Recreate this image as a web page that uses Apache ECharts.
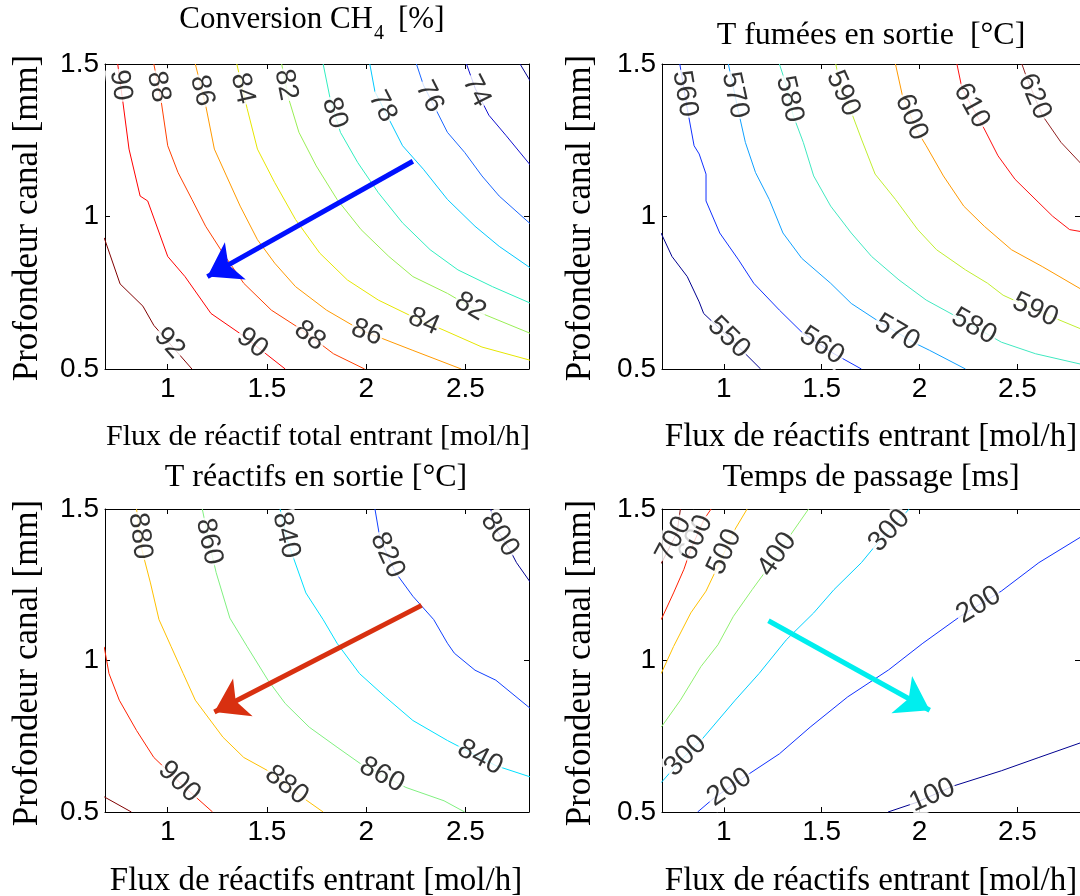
<!DOCTYPE html>
<html><head><meta charset="utf-8">
<script src="https://cdn.jsdelivr.net/npm/echarts@6/dist/echarts.min.js"></script>
<style>html,body{margin:0;padding:0;background:#fff}#c{width:1080px;height:896px}</style>
</head><body><div id="c"></div>
<script>
// ---------------- DATA ----------------
const xTicks = [1, 1.5, 2, 2.5];
const yTicks = [0.5, 1, 1.5];
const X_MIN = 0.684, X_MAX = 2.82, Y_MIN = 0.5, Y_MAX = 1.5;

// Panel 1 : Conversion CH4 [%]
const convLevels = [92, 90, 88, 86, 84, 82, 80, 78, 76, 74, 72];
const convLines = [
  [[0.68,0.93],[0.760,0.779],[0.875,0.706],[0.930,0.643],[1.122,0.5]],
  [[0.748,1.5],[0.774,1.376],[0.805,1.221],[0.861,1.067],[0.899,1.051],[1.0,0.869],[1.087,0.803],[1.218,0.682],[1.365,0.616],[1.592,0.5]],
  [[0.930,1.5],[0.965,1.387],[1.0,1.232],[1.052,1.144],[1.122,1.056],[1.191,0.968],[1.278,0.880],[1.383,0.781],[1.522,0.693],[1.679,0.627],[1.835,0.550],[1.992,0.5]],
  [[1.139,1.5],[1.191,1.365],[1.235,1.221],[1.296,1.133],[1.365,1.034],[1.452,0.924],[1.539,0.847],[1.644,0.770],[1.800,0.693],[1.974,0.627],[2.235,0.561],[2.479,0.5]],
  [[1.348,1.5],[1.400,1.354],[1.452,1.221],[1.539,1.111],[1.644,0.990],[1.766,0.880],[1.905,0.792],[2.061,0.726],[2.235,0.671],[2.392,0.627],[2.583,0.572],[2.83,0.528]],
  [[1.574,1.5],[1.609,1.387],[1.661,1.276],[1.748,1.166],[1.853,1.056],[1.974,0.957],[2.114,0.869],[2.235,0.803],[2.409,0.748],[2.583,0.682],[2.83,0.616]],
  [[1.783,1.5],[1.818,1.387],[1.870,1.276],[1.957,1.177],[2.061,1.078],[2.183,0.979],[2.322,0.891],[2.462,0.825],[2.636,0.770],[2.83,0.715]],
  [[2.018,1.5],[2.044,1.409],[2.114,1.320],[2.183,1.232],[2.288,1.155],[2.409,1.056],[2.548,0.968],[2.670,0.902],[2.83,0.830]],
  [[2.253,1.5],[2.288,1.431],[2.357,1.343],[2.409,1.276],[2.496,1.210],[2.583,1.133],[2.670,1.067],[2.83,0.974]],
  [[2.505,1.5],[2.549,1.420],[2.618,1.332],[2.705,1.265],[2.83,1.166]],
  [[2.775,1.5],[2.83,1.44]]
];
const convLabels = [
  [1.0,0.58,92],[0.76,1.43,90],[1.42,0.58,90],[0.948,1.425,88],[1.705,0.60,88],
  [1.157,1.41,86],[2.0,0.615,86],[1.375,1.42,84],[2.29,0.655,84],[1.58,1.43,82],
  [2.52,0.70,82],[1.844,1.34,80],[2.08,1.36,78],[2.31,1.39,76],[2.55,1.41,74]
];
const convArrow = [2.235, 1.181, 1.200, 0.803];

// Panel 2 : T fumées en sortie [°C]
const fumLevels = [550, 560, 570, 580, 590, 600, 610, 620];
const fumLines = [
  [[0.679,0.946],[0.735,0.869],[0.813,0.803],[0.874,0.720],[0.897,0.682],[0.988,0.627],[1.110,0.550],[1.188,0.5]],
  [[0.775,1.5],[0.813,1.354],[0.848,1.232],[0.874,1.205],[0.909,1.139],[0.909,1.051],[0.979,0.946],[1.075,0.858],[1.153,0.781],[1.284,0.693],[1.406,0.616],[1.563,0.550],[1.703,0.5]],
  [[1.023,1.5],[1.075,1.343],[1.110,1.243],[1.162,1.144],[1.232,1.056],[1.302,0.946],[1.398,0.863],[1.546,0.781],[1.651,0.715],[1.808,0.649],[1.982,0.583],[2.052,0.561],[2.235,0.5]],
  [[1.284,1.5],[1.319,1.431],[1.354,1.332],[1.406,1.243],[1.459,1.133],[1.546,1.034],[1.651,0.946],[1.755,0.869],[1.895,0.792],[2.034,0.726],[2.191,0.671],[2.418,0.588],[2.593,0.550],[2.83,0.515]],
  [[1.572,1.5],[1.598,1.420],[1.651,1.343],[1.703,1.254],[1.773,1.139],[1.877,1.056],[1.991,0.957],[2.087,0.891],[2.235,0.825],[2.348,0.781],[2.427,0.742],[2.593,0.693],[2.83,0.63]],
  [[1.877,1.5],[1.912,1.398],[1.982,1.287],[2.034,1.232],[2.122,1.133],[2.226,1.034],[2.331,0.968],[2.470,0.891],[2.627,0.836],[2.83,0.76]],
  [[2.191,1.5],[2.217,1.420],[2.331,1.287],[2.401,1.199],[2.488,1.122],[2.610,1.045],[2.680,1.001],[2.767,0.957],[2.83,0.95]],
  [[2.523,1.5],[2.549,1.453],[2.627,1.332],[2.723,1.243],[2.83,1.17]]
];
const fumLabels = [
  [1.005,0.59,550],[0.778,1.40,560],[1.50,0.575,560],[1.072,1.40,570],[1.877,0.61,570],
  [1.302,1.38,580],[2.27,0.63,580],[1.598,1.40,590],[2.575,0.67,590],[1.938,1.32,600],
  [2.244,1.355,610],[2.575,1.39,620]
];

// Panel 3 : T réactifs en sortie [°C]
const reacLevels = [800, 820, 840, 860, 880, 900, 920];
const reacLines = [
  [[2.627,1.5],[2.653,1.434],[2.722,1.367],[2.757,1.323],[2.83,1.255]],
  [[2.044,1.5],[2.070,1.400],[2.148,1.290],[2.235,1.212],[2.340,1.135],[2.409,1.057],[2.444,1.024],[2.548,0.968],[2.653,0.935],[2.83,0.84]],
  [[1.566,1.5],[1.601,1.400],[1.636,1.334],[1.696,1.223],[1.783,1.135],[1.853,1.057],[1.966,0.957],[2.096,0.880],[2.235,0.802],[2.409,0.736],[2.653,0.653],[2.83,0.615]],
  [[1.174,1.5],[1.209,1.389],[1.244,1.290],[1.313,1.140],[1.400,1.046],[1.505,0.935],[1.592,0.858],[1.713,0.780],[1.853,0.714],[1.974,0.658],[2.200,0.581],[2.392,0.537],[2.496,0.5]],
  [[0.843,1.5],[0.869,1.367],[0.913,1.256],[0.956,1.135],[1.017,1.046],[1.078,0.957],[1.139,0.869],[1.278,0.747],[1.383,0.680],[1.505,0.636],[1.679,0.548],[1.783,0.5]],
  [[0.68,1.045],[0.704,0.957],[0.756,0.869],[0.843,0.769],[0.930,0.680],[1.0,0.636],[1.087,0.581],[1.226,0.5]],
  [[0.68,0.55],[0.817,0.5]]
];
const reacLabels = [
  [2.661,1.41,800],[2.114,1.35,820],[1.574,1.41,840],[2.566,0.67,840],[1.191,1.39,860],
  [2.07,0.61,860],[0.852,1.41,880],[1.583,0.575,880],[1.044,0.59,900]
];
const reacArrow = [2.279, 1.182, 1.235, 0.830];

// Panel 4 : Temps de passage [ms]
const passLevels = [100, 200, 300, 400, 500, 600, 700];
const passLines = [
  [[1.839,0.5],[1.982,0.531],[2.174,0.586],[2.418,0.636],[2.610,0.680],[2.83,0.73]],
  [[0.866,0.5],[0.953,0.548],[1.127,0.625],[1.284,0.692],[1.441,0.780],[1.633,0.880],[1.842,0.969],[2.017,1.057],[2.209,1.146],[2.418,1.229],[2.610,1.323],[2.83,1.41]],
  [[0.68,0.597],[0.778,0.669],[0.883,0.736],[1.058,0.869],[1.180,0.957],[1.319,1.068],[1.459,1.157],[1.563,1.234],[1.703,1.323],[1.773,1.378],[1.947,1.5]],
  [[0.68,0.78],[0.778,0.869],[0.883,0.980],[0.970,1.052],[1.049,1.146],[1.145,1.234],[1.214,1.295],[1.337,1.411],[1.433,1.5]],
  [[0.68,0.957],[0.743,1.046],[0.831,1.157],[0.909,1.229],[0.970,1.312],[1.058,1.434],[1.119,1.5]],
  [[0.68,1.135],[0.743,1.223],[0.796,1.301],[0.831,1.367],[0.900,1.467],[0.935,1.5]],
  [[0.68,1.32],[0.761,1.422],[0.778,1.5]]
];
const passLabels = [
  [2.069,0.55,100],[1.04,0.57,200],[2.305,1.18,200],[0.813,0.68,300],[1.843,1.43,300],
  [1.284,1.345,400],[1.031,1.35,500],[0.874,1.40,600],[0.745,1.40,700]
];
const passArrow = [1.228, 1.131, 2.052, 0.836];

// ---------------- STYLE / LAYOUT ----------------
const SANS = 'Liberation Sans, Arial, sans-serif';
const SERIF = 'Liberation Serif, Times New Roman, serif';
const GRIDS = [
  {left:105, top:64, width:424, height:305},
  {left:662, top:64, width:424, height:305},
  {left:105, top:509, width:424, height:303},
  {left:662, top:509, width:424, height:303}
];
const convColors = ['#800000','#ff0000','#ff4000','#ff9900','#e6e600','#99ee55','#30eec0','#00c8ff','#1a66ff','#1010d0','#000090'];
const fumColors = ['#000090','#1030ff','#10a0ff','#40e8c0','#c0ee30','#ff9900','#ff1010','#902020'];
const reacColors = ['#000090','#1040ff','#00e0ff','#80f080','#ffc000','#ff2000','#800000'];
const passColors = ['#000090','#1030ff','#00d0ff','#90f070','#ffc000','#ff2000','#800000'];

function axisPair(gi, isX) {
  const base = {
    gridIndex: gi, type: 'value',
    min: isX ? X_MIN : Y_MIN, max: isX ? X_MAX : Y_MAX,
    axisLine: {show: true, onZero: false, lineStyle: {color: '#000', width: 1}},
    axisTick: {show: true, inside: true, length: 5, customValues: isX ? xTicks : yTicks, lineStyle: {color: '#000'}},
    splitLine: {show: false}
  };
  const main = Object.assign({}, base, {
    position: isX ? 'bottom' : 'left',
    axisLabel: {show: true, customValues: isX ? xTicks : yTicks, fontSize: 28, fontFamily: SANS, color: '#000', margin: 6}
  });
  const second = Object.assign({}, base, {
    position: isX ? 'top' : 'right',
    axisLabel: {show: false}
  });
  return [main, second];
}

function contourSeries(gi, lines, colors) {
  return lines.map((pts, i) => ({
    type: 'line', xAxisIndex: gi * 2, yAxisIndex: gi * 2, data: pts,
    showSymbol: false, symbol: 'none', clip: true, silent: true, z: 2,
    lineStyle: {color: colors[i], width: 1}
  }));
}

function labelSeries(gi, labels, levels, lines) {
  const g = GRIDS[gi];
  const sx = g.width / (X_MAX - X_MIN), sy = g.height / (Y_MAX - Y_MIN);
  const items = labels.map(([x, y, lv]) => {
    const pts = lines[levels.indexOf(lv)];
    const P = [(x - X_MIN) * sx, (y - Y_MIN) * sy];
    let best = null;
    for (let i = 0; i < pts.length - 1; i++) {
      const A = [(pts[i][0] - X_MIN) * sx, (pts[i][1] - Y_MIN) * sy];
      const B = [(pts[i+1][0] - X_MIN) * sx, (pts[i+1][1] - Y_MIN) * sy];
      const dx = B[0] - A[0], dy = B[1] - A[1];
      const L2 = dx * dx + dy * dy || 1e-9;
      let t = ((P[0] - A[0]) * dx + (P[1] - A[1]) * dy) / L2;
      t = Math.max(0, Math.min(1, t));
      const Q = [A[0] + t * dx, A[1] + t * dy];
      const d = Math.hypot(P[0] - Q[0], P[1] - Q[1]);
      if (!best || d < best.d) {
        let ang = Math.atan2(dy, dx) * 180 / Math.PI;
        if (ang > 90) ang -= 180;
        if (ang <= -90) ang += 180;
        best = {d, Q, ang};
      }
    }
    return {
      value: [best.Q[0] / sx + X_MIN, best.Q[1] / sy + Y_MIN, lv],
      label: {rotate: best.ang}
    };
  });
  return {
    type: 'scatter', xAxisIndex: gi * 2, yAxisIndex: gi * 2, data: items,
    symbolSize: 1, itemStyle: {color: 'transparent'}, silent: true, z: 5,
    label: {
      show: true, position: 'inside', formatter: p => String(p.value[2]),
      fontSize: 28, fontFamily: SANS, color: '#000', textBorderWidth: 0,
      backgroundColor: '#fff', padding: [0, 1]
    }
  };
}

function arrowSeries(gi, a, color) {
  return {
    type: 'lines', coordinateSystem: 'cartesian2d', xAxisIndex: gi * 2, yAxisIndex: gi * 2,
    data: [{coords: [[a[0], a[1]], [a[2], a[3]]]}],
    symbol: ['none', 'arrow'], symbolSize: [26, 32], silent: true, z: 6,
    lineStyle: {color: color, width: 5, opacity: 1}
  };
}

const xAxes = [], yAxes = [];
for (let g = 0; g < 4; g++) { xAxes.push(...axisPair(g, true)); yAxes.push(...axisPair(g, false)); }

const series = [].concat(
  contourSeries(0, convLines, convColors),
  contourSeries(1, fumLines, fumColors),
  contourSeries(2, reacLines, reacColors),
  contourSeries(3, passLines, passColors),
  [labelSeries(0, convLabels, convLevels, convLines),
   labelSeries(1, fumLabels, fumLevels, fumLines),
   labelSeries(2, reacLabels, reacLevels, reacLines),
   labelSeries(3, passLabels, passLevels, passLines),
   arrowSeries(0, convArrow, '#0010ff'),
   arrowSeries(2, reacArrow, '#d83010'),
   arrowSeries(3, passArrow, '#00eeee')]
);

function txt(x, y, text, size, rot, align) {
  return {type: 'text', x: x, y: y, rotation: rot || 0, z: 10,
    style: {text: text, font: size + 'px ' + SERIF, fill: '#000', align: align || 'center', verticalAlign: 'middle'}};
}

const graphic = [
  txt(373, 20, 'Conversion CH', 31, 0, 'right'),
  txt(374, 34, '4', 20, 0, 'left'),
  txt(398, 20, '[%]', 31, 0, 'left'),
  txt(871, 36, 'T fumées en sortie  [°C]', 32),
  txt(316, 478, 'T réactifs en sortie [°C]', 32),
  txt(871, 478, 'Temps de passage [ms]', 32),
  txt(318, 437, 'Flux de réactif total entrant [mol/h]', 30),
  txt(871, 437, 'Flux de réactifs entrant [mol/h]', 33),
  txt(316, 881, 'Flux de réactifs entrant [mol/h]', 33),
  txt(871, 881, 'Flux de réactifs entrant [mol/h]', 33),
  txt(28, 218, 'Profondeur canal [mm]', 35, Math.PI / 2),
  txt(581, 218, 'Profondeur canal [mm]', 35, Math.PI / 2),
  txt(28, 663, 'Profondeur canal [mm]', 35, Math.PI / 2),
  txt(581, 663, 'Profondeur canal [mm]', 35, Math.PI / 2)
];

const chart = echarts.init(document.getElementById('c'), null, {renderer: 'canvas', width: 1080, height: 896});
chart.setOption({
  animation: false,
  backgroundColor: '#fff',
  grid: GRIDS.map(g => Object.assign({containLabel: false}, g)),
  xAxis: xAxes,
  yAxis: yAxes,
  series: series,
  graphic: graphic
});
</script></body></html>
